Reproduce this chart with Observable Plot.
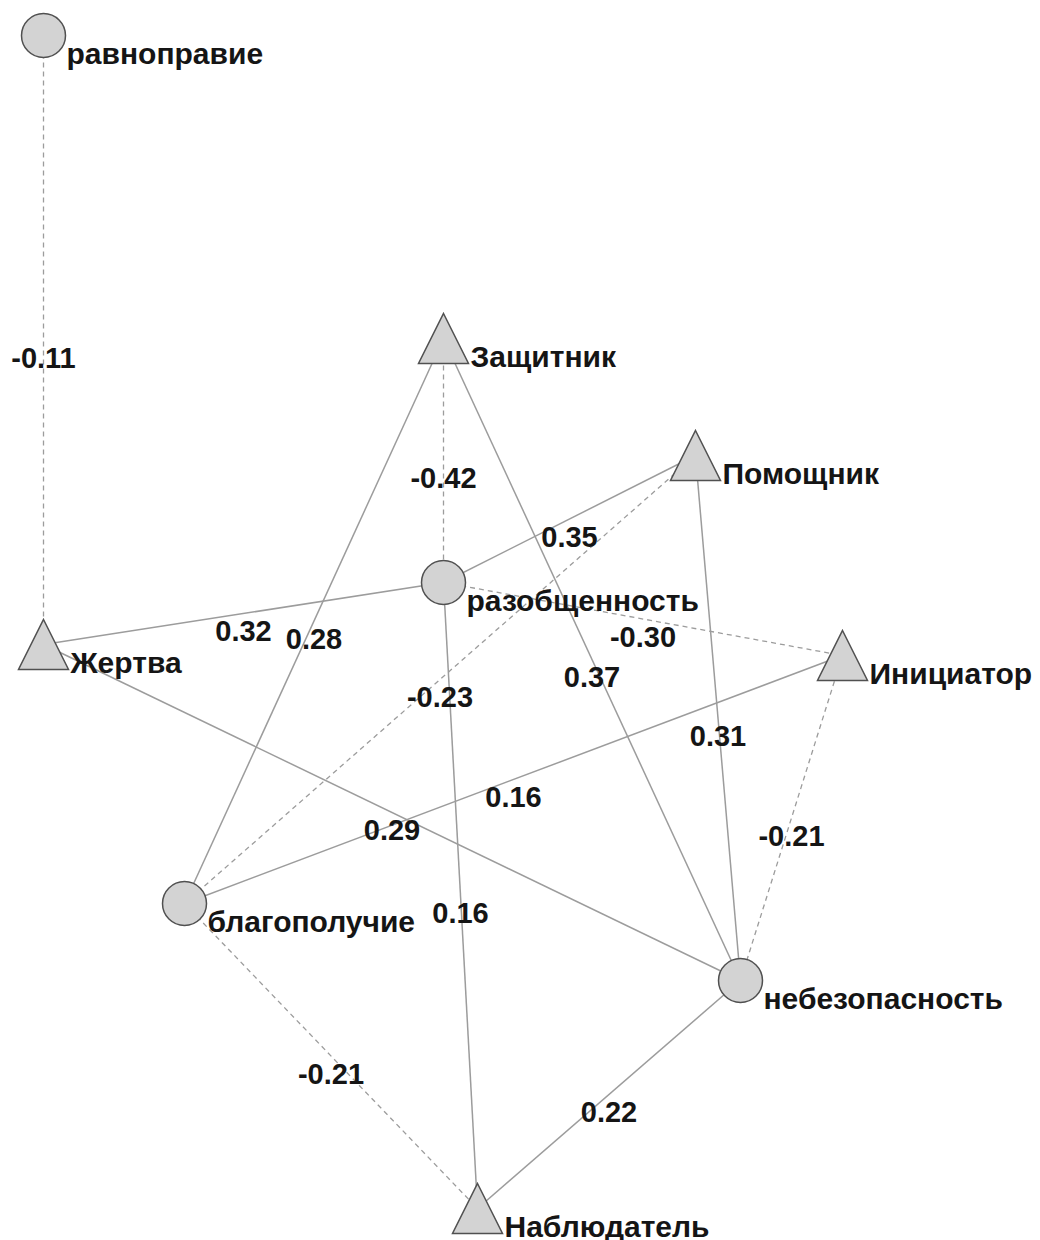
<!DOCTYPE html>
<html><head><meta charset="utf-8">
<script src="https://cdn.jsdelivr.net/npm/d3@7"></script>
<script src="https://cdn.jsdelivr.net/npm/@observablehq/plot@0.6"></script>
<style>html,body{margin:0;padding:0;background:#fff}</style>
</head><body><div id="chart"></div>
<script>
// Network layout (node positions from the reference layout)
const nodeNames = ["равноправие","Защитник","Помощник","разобщенность","Жертва","Инициатор","благополучие","небезопасность","Наблюдатель"];
const nodeShape = ["circle","triangle","triangle","circle","triangle","triangle","circle","circle","triangle"];
const nodeX = [43, 443, 695, 443, 43, 842, 184, 740, 477];
const nodeY = [35, 338, 455, 582, 644, 655, 903, 980, 1208];

// Edges: correlations between nodes
const edgeFrom   = [0, 1, 1, 1, 2, 2, 2, 3, 3, 3, 4, 5, 5, 6, 7];
const edgeTo     = [4, 3, 6, 7, 3, 6, 7, 4, 5, 8, 7, 6, 7, 8, 8];
const edgeWeight = [-0.11, -0.42, 0.28, 0.37, 0.35, -0.23, 0.31, 0.32, -0.30, 0.16, 0.29, 0.16, -0.21, -0.21, 0.22];

const nodes = nodeNames.map((name, i) => ({name, shape: nodeShape[i], x: nodeX[i], y: nodeY[i]}));
const edges = edgeFrom.map((f, i) => ({
  x1: nodeX[f], y1: nodeY[f], x2: nodeX[edgeTo[i]], y2: nodeY[edgeTo[i]],
  mx: (nodeX[f] + nodeX[edgeTo[i]]) / 2, my: (nodeY[f] + nodeY[edgeTo[i]]) / 2,
  w: edgeWeight[i], label: edgeWeight[i].toFixed(2)
}));

const triangle = {
  draw(context, size) {
    const r = Math.sqrt(size / Math.PI);
    context.moveTo(0, -r);
    context.lineTo(r, r);
    context.lineTo(-r, r);
    context.closePath();
  }
};

const font = "'Liberation Sans', Arial, sans-serif";
const chart = Plot.plot({
  width: 1040,
  height: 1240,
  margin: 0,
  x: {domain: [0, 1040], range: [0, 1040], axis: null},
  y: {domain: [0, 1240], range: [0, 1240], axis: null},
  style: {fontFamily: font, background: "#fff"},
  marks: [
    Plot.link(edges.filter(d => d.w > 0), {x1: "x1", y1: "y1", x2: "x2", y2: "y2", stroke: "#9c9c9c", strokeWidth: 1.5}),
    Plot.link(edges.filter(d => d.w < 0), {x1: "x1", y1: "y1", x2: "x2", y2: "y2", stroke: "#9c9c9c", strokeWidth: 1.3, strokeDasharray: "5,4"}),
    Plot.dot(nodes.filter(d => d.shape === "circle"), {x: "x", y: "y", r: 22, fill: "#d3d3d3", stroke: "#505050", strokeWidth: 1.5}),
    Plot.dot(nodes.filter(d => d.shape === "triangle"), {x: "x", y: "y", r: 25, symbol: triangle, fill: "#d3d3d3", stroke: "#505050", strokeWidth: 1.5}),
    Plot.text(nodes.filter(d => d.shape === "circle"), {x: "x", y: "y", text: "name", textAnchor: "start", dx: 23, dy: 18.4, fontSize: 30, fontWeight: "bold", fill: "#151515"}),
    Plot.text(nodes.filter(d => d.shape === "triangle"), {x: "x", y: "y", text: "name", textAnchor: "start", dx: 27, dy: 18.4, fontSize: 30, fontWeight: "bold", fill: "#151515"}),
    Plot.text(edges, {x: "mx", y: "my", text: "label", dy: 18.7, fontSize: 29, fontWeight: "bold", fill: "#151515"})
  ]
});
document.getElementById("chart").appendChild(chart);
</script>
</body></html>
